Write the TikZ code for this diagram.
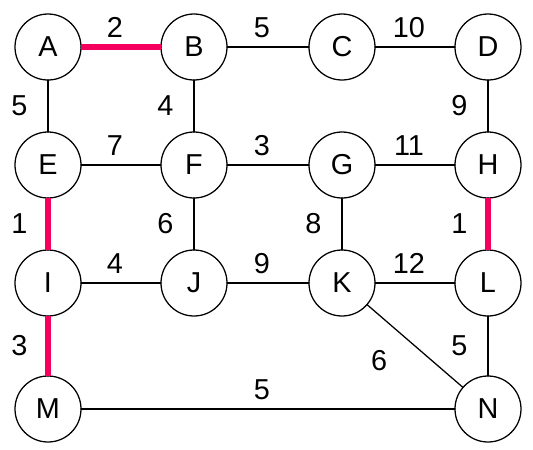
\documentclass[tikz,border=0pt]{standalone}
\usepackage{fontspec}
\setmainfont{Liberation Sans}
\usetikzlibrary{positioning}
\definecolor{treered}{HTML}{F5005F}
\tikzset{
    every picture/.style={line cap=round,line join=round},
    vertex/.style={draw,circle,minimum size=1.65cm,inner sep=0pt,outer sep=0pt,
      line width=0.9pt,font=\fontsize{20.5}{24}\selectfont},
    link/.style={draw,line width=0.9pt},
    treelink/.style={draw=treered,line width=3.6pt,line cap=butt},
    wlabel/.style={inner sep=0pt,font=\fontsize{20.5}{24}\selectfont},
    hlabel/.style={wlabel,above=0.22cm,xshift=-0.15cm},
    vlabel/.style={wlabel,left=0.5cm}
}
\begin{document}
\begin{tikzpicture}[node distance=1.3cm and 2cm]
    \useasboundingbox (0,0) rectangle (13.325,-11.25);
    % vertices
    \node[vertex] (A) at (1.2,-1.175) {A};
    \node[vertex,right=2cm of A] (B) {B};
    \node[vertex,right=2.05cm of B] (C) {C};
    \node[vertex,right=2cm of C] (D) {D};
    \node[vertex,below=of A] (E) {E};
    \node[vertex,below=of B] (F) {F};
    \node[vertex,below=of C] (G) {G};
    \node[vertex,below=of D] (H) {H};
    \node[vertex,below=of E] (I) {I};
    \node[vertex,below=of F] (J) {J};
    \node[vertex,below=of G] (K) {K};
    \node[vertex,below=of H] (L) {L};
    \node[vertex,below=1.5cm of I] (M) {M};
    \node[vertex,below=1.5cm of L] (N) {N};
    % weighted edges
    \draw[link] (A)--node[hlabel]{2} (B);
    \draw[link] (B)--node[hlabel]{5} (C);
    \draw[link] (C)--node[hlabel]{10} (D);
    \draw[link] (A)--node[vlabel]{5} (E);
    \draw[link] (B)--node[vlabel]{4} (F);
    \draw[link] (D)--node[vlabel]{9} (H);
    \draw[link] (E)--node[hlabel]{7} (F);
    \draw[link] (F)--node[hlabel]{3} (G);
    \draw[link] (G)--node[hlabel]{11} (H);
    \draw[link] (E)--node[vlabel]{1} (I);
    \draw[link] (F)--node[vlabel]{6} (J);
    \draw[link] (G)--node[vlabel]{8} (K);
    \draw[link] (H)--node[vlabel]{1} (L);
    \draw[link] (I)--node[hlabel]{4} (J);
    \draw[link] (J)--node[hlabel]{9} (K);
    \draw[link] (K)--node[hlabel]{12} (L);
    \draw[link] (I)--node[vlabel]{3} (M);
    \draw[link] (K)--node[wlabel,below left=0.1cm and 0.68cm]{6} (N);
    \draw[link] (L)--node[vlabel]{5} (N);
    \draw[link] (M)--node[hlabel]{5} (N);
    % chosen edges
    \draw[treelink] (A)--(B);
    \draw[treelink] (E)--(I);
    \draw[treelink] (H)--(L);
    \draw[treelink] (I)--(M);
\end{tikzpicture}
\end{document}
